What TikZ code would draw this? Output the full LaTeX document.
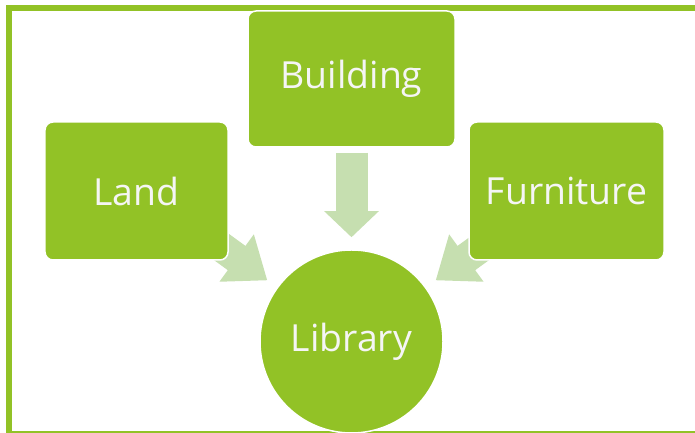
\documentclass[tikz,border=0pt]{standalone}
\usepackage{fontspec}
\setmainfont{Open Sans}
\usepackage{xcolor}
\definecolor{leafgreen}{RGB}{146,194,38}
\definecolor{palegreen}{RGB}{198,223,176}
\definecolor{labelgray}{RGB}{245,245,245}
\usepackage{tikz}
\usetikzlibrary{
    arrows.meta,
    positioning,
    backgrounds
}
\tikzstyle{flow} = [
    draw=palegreen,
    line width=32bp,
    -{Triangle[length=26bp,width=53bp]}
]

\begin{document}
\begin{tikzpicture}[
    x=1bp, y=1bp,
    block/.style={rectangle, rounded corners=8bp, draw=white, line width=1.5bp, fill=leafgreen, text=labelgray, inner sep=0pt, minimum height=138bp},
    hub/.style={circle, draw=white, line width=1.5bp, fill=leafgreen, text=labelgray, inner sep=0pt, minimum size=183bp},
    label/.style={font=\fontsize{37.5}{44}\selectfont}
]
    \useasboundingbox (0,0) rectangle (695,433);
    \clip (0,0) rectangle (695,433);

    % Frame, cut by the page on the right and at the bottom
    \draw[leafgreen, line width=6bp] (9,-1) rectangle (705,425);

    % The three parts
    \node[block, label, minimum width=207bp, minimum height=136bp] (building) at (351.5,354) {Building};
    \node[block, label, minimum width=183bp] (land) at (136.5,242) {Land};
    \node[block, label, minimum width=195bp] (furniture) at (566.5,242) {Furniture};

    % The whole
    \node[hub, label] (library) at (351.5,91.5) {Library};

    % Arrows
    \begin{scope}[on background layer]
        \path (library.center) ++(144:104) coordinate (landtip) ++(144:85) coordinate (landtail);
        \path (library.center) ++(36:104) coordinate (furntip) ++(36:85) coordinate (furntail);
        \draw[flow] ([yshift=-5bp]building.south) -- ([yshift=12bp]library.north);
        \draw[flow, line width=30bp, -{Triangle[length=38bp,width=56bp]}] (landtail) -- (landtip);
        \draw[flow, line width=30bp, -{Triangle[length=38bp,width=56bp]}] (furntail) -- (furntip);
    \end{scope}

\end{tikzpicture}
\end{document}
